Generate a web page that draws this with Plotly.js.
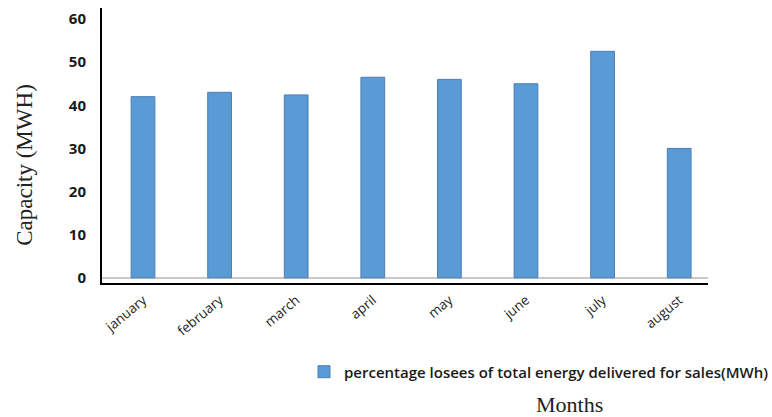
<!DOCTYPE html>
<html>
<head>
<meta charset="utf-8">
<script src="https://cdn.plot.ly/plotly-3.0.1.min.js"></script>
<style>
  html, body { margin: 0; padding: 0; background: #ffffff; }
  #chart { width: 772px; height: 417px; }
</style>
</head>
<body>
<div id="chart"></div>
<script>
// Monthly losses as a share of energy delivered for sales
const months = ['january', 'february', 'march', 'april', 'may', 'june', 'july', 'august'];
const losses = [42, 43, 42.4, 46.5, 46, 45, 52.5, 30];
const seriesName = 'percentage losees of total energy delivered for sales(MWh)';
const yTicks = [0, 10, 20, 30, 40, 50, 60];

const trace = {
  type: 'bar',
  x: months,
  y: losses,
  name: seriesName,
  width: 0.31,
  marker: {
    color: '#5b9bd5',
    line: { color: '#4a7fb3', width: 1 }
  },
  hoverinfo: 'x+y',
  showlegend: true
};

const layout = {
  width: 772,
  height: 417,
  margin: { l: 102, r: 64, t: 8, b: 134 },
  paper_bgcolor: '#ffffff',
  plot_bgcolor: '#ffffff',
  showlegend: true,
  xaxis: {
    type: 'category',
    range: [-0.535, 7.376],
    showline: true,
    linecolor: '#000000',
    linewidth: 2,
    ticks: '',
    tickangle: -40,
    ticklabelstandoff: 2,
    tickfont: { family: 'Open Sans, sans-serif', size: 13.5, color: '#222222' },
    showgrid: false,
    zeroline: false
  },
  yaxis: {
    range: [-1.2, 62.55],
    tickvals: yTicks,
    ticktext: yTicks.map(String),
    showline: true,
    linecolor: '#000000',
    linewidth: 2,
    ticks: '',
    ticklabelstandoff: 11,
    tickfont: { family: 'Open Sans, sans-serif', size: 15, color: '#1a1a1a', weight: 'bold' },
    showgrid: false,
    zeroline: true,
    zerolinecolor: '#c8c8c8',
    zerolinewidth: 2
  },
  legend: {
    orientation: 'h',
    xref: 'container',
    yref: 'container',
    x: 0.3938,
    y: 0.108,
    xanchor: 'left',
    yanchor: 'middle',
    font: { family: 'Open Sans, sans-serif', size: 15, color: '#1a1a1a', weight: 600 },
    itemwidth: 30,
    bgcolor: 'rgba(0,0,0,0)'
  },
  annotations: [
    {
      text: 'Capacity (MWH)',
      xref: 'paper', yref: 'paper',
      x: -0.127, y: 0.43,
      xanchor: 'center', yanchor: 'middle',
      textangle: -90,
      showarrow: false,
      font: { family: 'Liberation Serif, Times New Roman, serif', size: 23, color: '#222222' }
    },
    {
      text: 'Months',
      xref: 'paper', yref: 'paper',
      x: 0.772, y: -0.44,
      xanchor: 'center', yanchor: 'middle',
      showarrow: false,
      font: { family: 'Liberation Serif, Times New Roman, serif', size: 22, color: '#222222' }
    }
  ]
};

Plotly.newPlot('chart', [trace], layout, { displayModeBar: false, staticPlot: true });
</script>
</body>
</html>
